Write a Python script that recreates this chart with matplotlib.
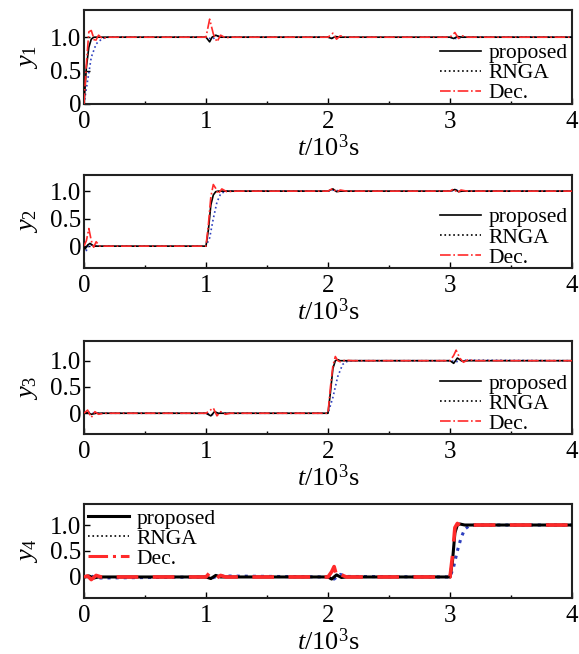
import matplotlib
matplotlib.use('Agg')
import matplotlib.pyplot as plt
from matplotlib.lines import Line2D

plt.rcParams['font.family'] = 'Liberation Serif'
plt.rcParams['mathtext.fontset'] = 'custom'
plt.rcParams['mathtext.rm'] = 'Liberation Serif'
plt.rcParams['mathtext.it'] = 'Liberation Serif:italic'

# y1 : step at t = 0
t1_prop = [0, 0.02, 0.04, 0.06, 0.08, 0.1, 1.0, 1.03, 1.05, 1.08, 1.12, 1.2, 2.0, 2.03, 2.06, 2.1, 3.0, 3.03, 3.06, 3.1, 4.0]
y1_prop = [0, 0.55, 0.85, 0.97, 1.0, 1.0, 1.0, 0.93, 1.0, 1.03, 1.0, 1.0, 1.0, 0.98, 1.01, 1.0, 1.0, 0.98, 1.01, 1.0, 1.0]
t1_rnga = [0, 0.03, 0.06, 0.1, 0.15, 0.2, 1.0, 1.05, 1.1, 1.15, 2.0, 2.05, 2.1, 3.0, 3.05, 3.1, 4.0]
y1_rnga = [0, 0.35, 0.7, 0.9, 0.98, 1.0, 1.0, 0.97, 1.02, 1.0, 1.0, 0.98, 1.0, 1.0, 0.98, 1.0, 1.0]
t1_dec = [0, 0.02, 0.04, 0.06, 0.09, 0.12, 0.15, 0.2, 1.0, 1.03, 1.06, 1.09, 1.12, 1.16, 1.2, 2.0, 2.04, 2.07, 2.1, 2.15, 3.0, 3.04, 3.07, 3.1, 3.15, 4.0]
y1_dec = [0, 0.6, 1.08, 1.1, 0.93, 1.03, 0.98, 1.0, 1.0, 1.27, 1.05, 0.93, 1.03, 0.99, 1.0, 1.0, 1.06, 0.97, 1.02, 1.0, 1.0, 1.07, 0.98, 1.02, 1.0, 1.0]

# y2 : step at t = 1
t2_prop = [0, 0.01, 0.03, 0.05, 0.08, 0.12, 1.0, 1.02, 1.04, 1.06, 1.08, 1.1, 1.15, 2.0, 2.04, 2.07, 2.1, 3.0, 3.04, 3.07, 3.1, 4.0]
y2_prop = [0, -0.05, 0.02, 0.05, 0.0, 0.0, 0.0, 0.3, 0.75, 0.93, 0.99, 1.0, 1.0, 1.0, 1.04, 0.99, 1.0, 1.0, 1.03, 0.99, 1.0, 1.0]
t2_rnga = [0, 0.02, 0.04, 0.07, 0.12, 1.0, 1.03, 1.06, 1.09, 1.12, 1.16, 1.2, 2.0, 2.05, 2.1, 3.0, 3.05, 3.1, 4.0]
y2_rnga = [0, -0.08, 0.03, 0.02, 0, 0, 0.15, 0.5, 0.8, 0.95, 1.0, 1.0, 1.0, 1.02, 1.0, 1.0, 1.02, 1.0, 1.0]
t2_dec = [0, 0.02, 0.04, 0.06, 0.08, 0.1, 0.13, 0.2, 1.0, 1.02, 1.04, 1.06, 1.08, 1.1, 1.13, 1.17, 1.25, 2.0, 2.04, 2.07, 2.1, 2.15, 3.0, 3.03, 3.06, 3.09, 3.14, 4.0]
y2_dec = [0, 0.1, 0.32, 0.1, -0.02, 0.08, 0.0, 0.0, 0.0, 0.4, 0.9, 1.12, 1.05, 0.95, 1.04, 0.99, 1.0, 1.0, 1.05, 0.98, 1.02, 1.0, 1.0, 1.04, 0.97, 1.02, 1.0, 1.0]

# y3 : step at t = 2
t3_prop = [0, 0.03, 0.06, 0.1, 1.0, 1.04, 1.07, 1.1, 1.15, 2.0, 2.02, 2.04, 2.06, 2.08, 2.1, 2.2, 3.0, 3.03, 3.06, 3.1, 3.15, 4.0]
y3_prop = [0, 0.01, -0.02, 0, 0, -0.05, 0.03, 0.0, 0, 0, 0.4, 0.85, 1.0, 1.02, 1.0, 1.0, 1.0, 0.95, 1.05, 0.99, 1.0, 1.0]
t3_rnga = [0, 0.05, 0.1, 1.0, 1.05, 1.1, 1.15, 2.0, 2.04, 2.08, 2.12, 2.16, 2.2, 3.0, 3.05, 3.1, 4.0]
y3_rnga = [0, 0.02, 0, 0, -0.03, 0.02, 0, 0, 0.3, 0.7, 0.93, 0.99, 1.0, 1.0, 0.98, 1.01, 1.0]
t3_dec = [0, 0.03, 0.06, 0.09, 0.12, 0.16, 1.0, 1.03, 1.06, 1.09, 1.12, 1.16, 1.2, 2.0, 2.02, 2.04, 2.06, 2.08, 2.1, 2.14, 2.2, 3.0, 3.03, 3.05, 3.08, 3.11, 3.15, 3.2, 4.0]
y3_dec = [0, 0.06, -0.08, 0.03, -0.02, 0, 0, 0.05, 0.1, -0.05, 0.03, -0.02, 0, 0, 0.5, 0.9, 1.08, 1.0, 0.98, 1.01, 1.0, 1.0, 1.1, 1.2, 1.05, 0.97, 1.02, 1.0, 1.0]

# y4 : step at t = 3
t4_prop = [0, 0.04, 0.08, 0.12, 1.0, 1.04, 1.08, 1.12, 2.0, 2.03, 2.07, 2.11, 2.15, 3.0, 3.02, 3.04, 3.06, 3.08, 3.12, 4.0]
y4_prop = [0, 0.02, -0.02, 0, 0, -0.03, 0.03, 0, 0, -0.04, 0.04, -0.01, 0, 0, 0.3, 0.85, 1.0, 1.02, 1.0, 1.0]
t4_rnga = [0, 0.05, 0.1, 1.0, 1.05, 1.1, 2.0, 2.05, 2.1, 2.15, 3.0, 3.03, 3.06, 3.09, 3.12, 3.16, 3.2, 4.0]
y4_rnga = [0, 0.03, -0.02, 0, -0.02, 0.02, 0, -0.04, 0.05, 0.01, 0, 0.2, 0.5, 0.75, 0.92, 0.99, 1.0, 1.0]
t4_dec = [0, 0.03, 0.06, 0.1, 0.14, 1.0, 1.03, 1.05, 1.08, 1.12, 1.16, 2.0, 2.03, 2.05, 2.08, 2.11, 2.15, 3.0, 3.02, 3.04, 3.06, 3.09, 3.13, 4.0]
y4_dec = [0, 0.02, -0.05, 0.03, 0, 0, 0.08, 0.12, -0.03, 0.03, 0, 0, 0.1, 0.2, -0.06, 0.04, 0, 0, 0.4, 0.95, 1.03, 0.98, 1.0, 1.0]

panels = [
    (t1_prop, y1_prop, t1_rnga, y1_rnga, t1_dec, y1_dec),
    (t2_prop, y2_prop, t2_rnga, y2_rnga, t2_dec, y2_dec),
    (t3_prop, y3_prop, t3_rnga, y3_rnga, t3_dec, y3_dec),
    (t4_prop, y4_prop, t4_rnga, y4_rnga, t4_dec, y4_dec),
]
ylims = [(0, 1.4), (-0.4, 1.3), (-0.4, 1.38), (-0.4, 1.4)]
bottoms = [0.841, 0.590, 0.336, 0.086]
legend_locs = ['lower right', 'lower right', 'lower right', 'upper left']
legend_anchor = [(1.0, -0.04), (1.0, -0.04), (1.0, -0.04), (0.0, 1.0)]

fig = plt.figure(figsize=(5.79, 6.54), dpi=100)
red = '#ff2a2a'
blue = '#2d3fbf'

for i, (tp, yp, tr, yr, td, yd) in enumerate(panels):
    ax = fig.add_axes([0.145, bottoms[i], 0.843, 0.143])
    lw = 2.2 if i == 3 else 1.2
    ax.plot(tp, yp, c='black', lw=lw, zorder=3)
    ax.plot(tr, yr, c=blue, lw=lw, ls=':', zorder=2)
    if i == 3:
        ax.plot(td, yd, c=red, lw=2.6, ls=(0, (6, 4)), zorder=4)
    else:
        ax.plot(td, yd, c=red, lw=lw, ls='-.', zorder=4)
    ax.set_xlim(0, 4)
    ax.set_ylim(*ylims[i])
    ax.set_xticks([0, 1, 2, 3, 4])
    ax.set_xticks([0.5, 1.5, 2.5, 3.5], minor=True)
    ax.set_yticks([0, 0.5, 1.0])
    ax.set_yticklabels(['0', '0.5', '1.0'])
    ax.tick_params(direction='in', length=4, width=1, labelsize=18)
    ax.tick_params(axis='y', pad=2)
    ax.tick_params(axis='x', pad=5)
    ax.tick_params(which='minor', direction='in', length=2, width=1)
    for s in ax.spines.values():
        s.set_linewidth(1.5)
        s.set_color('#222222')
    ax.set_ylabel(r'$y_{%d}$' % (i + 1), fontsize=19, labelpad=7)
    ax.set_xlabel(r'$t/10^{3}\mathrm{s}$', fontsize=19, labelpad=1)
    handles = [Line2D([], [], c='black', lw=lw),
               Line2D([], [], c='black', lw=1.2, ls=':'),
               Line2D([], [], c=red, lw=lw, ls='-.')]
    ax.legend(handles, ['proposed', 'RNGA', 'Dec.'], loc=legend_locs[i],
              bbox_to_anchor=legend_anchor[i], frameon=False,
              fontsize=15.5, labelspacing=0.0, handlelength=1.9, handletextpad=0.35,
              borderaxespad=0.1, borderpad=0.1)

plt.savefig('out.png', dpi=100)
